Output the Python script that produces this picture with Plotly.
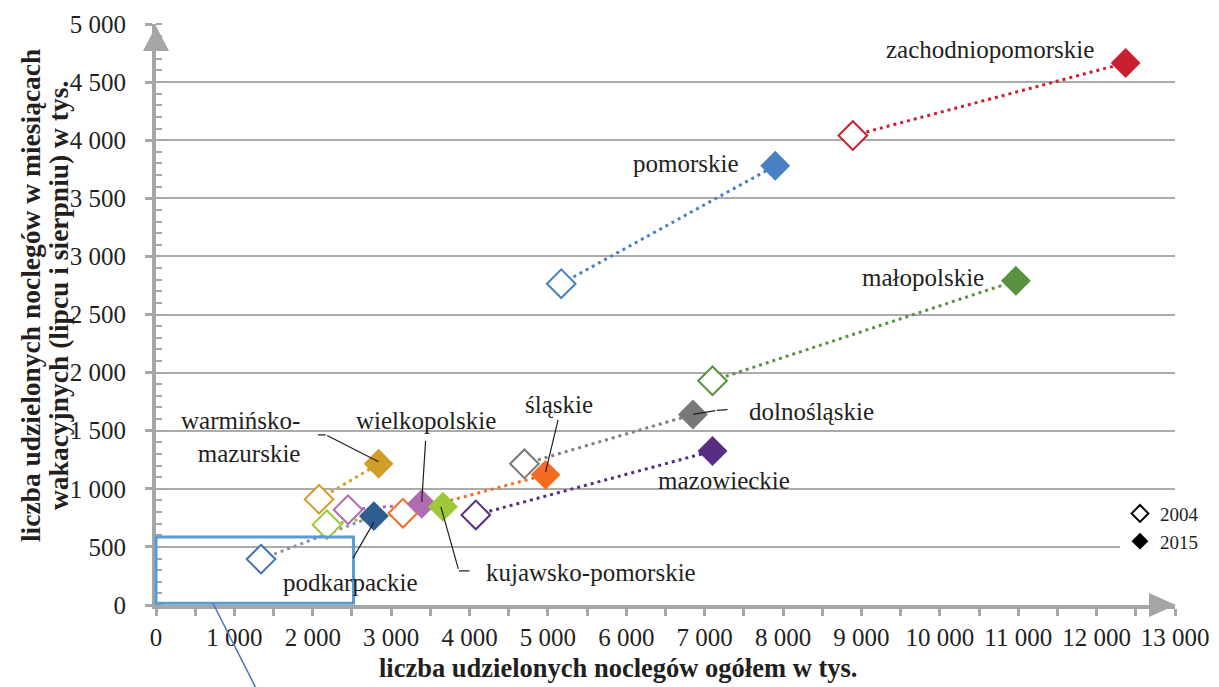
import plotly.graph_objects as go

# ---------------- data ----------------
regions = ["zachodniopomorskie", "pomorskie", "małopolskie", "dolnośląskie", "mazowieckie",
           "śląskie", "warmińsko-mazurskie", "wielkopolskie", "kujawsko-pomorskie", "podkarpackie"]
x2004 = [8890, 5170, 7100, 4700, 4080, 3150, 2080, 2450, 2180, 1340]
y2004 = [4040, 2765, 1930, 1215, 775, 790, 910, 820, 690, 395]
x2015 = [12370, 7900, 10970, 6850, 7100, 4970, 2840, 3390, 3660, 2780]
y2015 = [4665, 3780, 2790, 1640, 1325, 1120, 1215, 870, 845, 765]
years = ["2004", "2015"]
x_range = [0, 13000]
y_range = [0, 5000]
inset_box = {"x": [0, 2520], "y": [15, 585]}   # highlighted region (data units)

# ---------------- styles ----------------
fill_colors = ["#C8202E", "#4880C4", "#5A9240", "#787878", "#582D84",
               "#F36C21", "#D29E2A", "#B06CB0", "#9DC83A", "#2E5E90"]
open_colors = ["#C8202E", "#4880C4", "#5A9240", "#787878", "#582D84",
               "#F36C21", "#D29E2A", "#B06CB0", "#9DC83A", "#3F6FAF"]
line_colors = ["#C8202E", "#4880C4", "#5A9240", "#808080", "#582D84",
               "#F36C21", "#D29E2A", "#B06CB0", "#9DC83A", "#8A93A3"]

FONT = "Times New Roman, Liberation Serif, serif"
AXC = "#A6A6A6"
TXT = "#231F20"

# label placement in pixels relative to the 2015 marker (dx, dy), dy>0 downwards
label_pos = {
    "zachodniopomorskie": (-136, -13),
    "pomorskie": (-89, -2),
    "małopolskie": (-93, -3),
    "mazowieckie": (11, 29),
    "dolnośląskie": (119, -3),
    "śląskie": (13, -70),
    "wielkopolskie": (4, -83),
    "warmińsko-mazurskie": (-138, -27),
    "podkarpackie": (-23, 66),
    "kujawsko-pomorskie": (148, 66),
}
# leader polylines in pixels relative to the 2015 marker
leaders = {
    "dolnośląskie": [(0, 0), (24, -4), (36, -5)],
    "śląskie": [(0, -3), (13, -57)],
    "wielkopolskie": [(0, -2), (4, -65)],
    "warmińsko-mazurskie": [(0, -2), (-53, -29), (-62, -29)],
    "podkarpackie": [(0, 6), (-22, 44)],
    "kujawsko-pomorskie": [(-2, 0), (16, 64), (28, 64)],
}
label_text = {"warmińsko-mazurskie": "warmińsko-<br>mazurskie"}

fig = go.Figure()

# connecting dotted lines
for i, r in enumerate(regions):
    fig.add_trace(go.Scatter(
        x=[x2004[i], x2015[i]], y=[y2004[i], y2015[i]], mode="lines",
        line=dict(color=line_colors[i], width=3, dash="3px,4px"),
        showlegend=False, hoverinfo="skip"))

# 2004 open markers
fig.add_trace(go.Scatter(
    x=x2004, y=y2004, mode="markers", text=regions, showlegend=False,
    marker=dict(symbol="diamond", size=22, color="white",
                line=dict(color=open_colors, width=2))))
# 2015 filled markers
fig.add_trace(go.Scatter(
    x=x2015, y=y2015, mode="markers", text=regions, showlegend=False,
    marker=dict(symbol="diamond", size=23, color=fill_colors, line=dict(width=0))))

# legend entries
fig.add_trace(go.Scatter(x=[None], y=[None], mode="markers", name=years[0],
                         marker=dict(symbol="diamond", size=13, color="white",
                                     line=dict(color="black", width=2))))
fig.add_trace(go.Scatter(x=[None], y=[None], mode="markers", name=years[1],
                         marker=dict(symbol="diamond", size=13, color="black",
                                     line=dict(width=0))))

annotations = []
for i, r in enumerate(regions):
    dx, dy = label_pos[r]
    annotations.append(dict(
        x=x2015[i], y=y2015[i], xref="x", yref="y", text=label_text.get(r, r),
        showarrow=False, xshift=dx, yshift=-dy, align="right",
        font=dict(family=FONT, size=25, color=TXT)))
    pts = leaders.get(r, [])
    for (p0, p1) in zip(pts[:-1], pts[1:]):
        # arrow tip at p0, tail at p1
        annotations.append(dict(
            x=x2015[i], y=y2015[i], xref="x", yref="y", text=" ",
            font=dict(size=1), showarrow=True, arrowhead=0, arrowwidth=1.2,
            arrowcolor=TXT, standoff=0, startstandoff=0,
            xshift=p0[0], yshift=-p0[1], ax=p1[0] - p0[0], ay=p1[1] - p0[1]))

# axis titles
annotations.append(dict(
    x=0.453, y=-0.108, xref="paper", yref="paper", showarrow=False,
    text="<b>liczba udzielonych noclegów ogółem w tys.</b>",
    font=dict(family=FONT, size=26.5, color=TXT), xanchor="center", yanchor="middle"))
annotations.append(dict(
    x=-0.1225, y=0.532, xref="paper", yref="paper", showarrow=False, textangle=-90,
    text="<b>liczba udzielonych noclegów w miesiącach</b>",
    font=dict(family=FONT, size=27.5, color=TXT), xanchor="center", yanchor="middle"))
annotations.append(dict(
    x=-0.0951, y=0.532, xref="paper", yref="paper", showarrow=False, textangle=-90,
    text="<b>wakacyjnych (lipcu i sierpniu) w tys.</b>",
    font=dict(family=FONT, size=27.5, color=TXT), xanchor="center", yanchor="middle"))

def px(v):
    return (v - x_range[0]) / (x_range[1] - x_range[0])

def py(v):
    return (v - y_range[0]) / (y_range[1] - y_range[0])

shapes = [
    # arrow heads of the axes
    dict(type="path", xref="paper", yref="paper", xsizemode="pixel", ysizemode="pixel",
         xanchor=0, yanchor=1, path="M -13,-27 L 0,-2 L 13,-27 Z",
         fillcolor=AXC, line=dict(width=0)),
    dict(type="path", xref="paper", yref="paper", xsizemode="pixel", ysizemode="pixel",
         xanchor=1, yanchor=0, path="M -26,-12 L 1,0 L -26,12 Z",
         fillcolor=AXC, line=dict(width=0)),
    # highlighted inset region
    dict(type="rect", xref="paper", yref="paper",
         x0=px(inset_box["x"][0]), x1=px(inset_box["x"][1]),
         y0=py(inset_box["y"][0]), y1=py(inset_box["y"][1]),
         line=dict(color="#5B9BD5", width=3), fillcolor="rgba(0,0,0,0)"),
    dict(type="line", xref="paper", yref="paper",
         x0=0.0559, y0=py(inset_box["y"][0]), x1=0.103, y1=-0.16,
         line=dict(color="#4472C4", width=1.5)),
]

# the page body has an 8 px margin: size the figure to fit the window
fig.update_layout(
    width=1211, height=679,
    margin=dict(l=148, r=44, t=16, b=82, autoexpand=False),
    paper_bgcolor="white", plot_bgcolor="white",
    separators=", ",
    font=dict(family=FONT, size=25, color=TXT),
    showlegend=True,
    legend=dict(x=0.946, y=0.19, xanchor="left", yanchor="top",
                font=dict(family=FONT, size=19, color=TXT),
                bgcolor="white", borderwidth=0, itemwidth=30, tracegroupgap=0),
    annotations=annotations,
    shapes=shapes,
    xaxis=dict(range=x_range, dtick=1000, tickformat=",d", automargin=False,
               showline=True, linecolor=AXC, linewidth=4,
               ticks="outside", ticklen=7, tickwidth=3, tickcolor=AXC,
               minor=dict(dtick=500, ticks="outside", ticklen=7, tickwidth=3,
                          tickcolor=AXC, showgrid=False),
               showgrid=False, zeroline=False,
               tickfont=dict(family=FONT, size=25, color=TXT)),
    yaxis=dict(range=y_range, dtick=500, tickformat=",d", automargin=False,
               showline=True, linecolor=AXC, linewidth=4,
               ticks="outside", ticklen=7, tickwidth=3, tickcolor=AXC,
               ticklabelstandoff=14,
               minor=dict(dtick=100, ticks="inside", ticklen=6, tickwidth=2,
                          tickcolor=AXC, showgrid=False),
               showgrid=True, gridcolor="#ABABAB", gridwidth=1.5, zeroline=False,
               tickfont=dict(family=FONT, size=25, color=TXT)),
)

fig.write_html("out.html")
